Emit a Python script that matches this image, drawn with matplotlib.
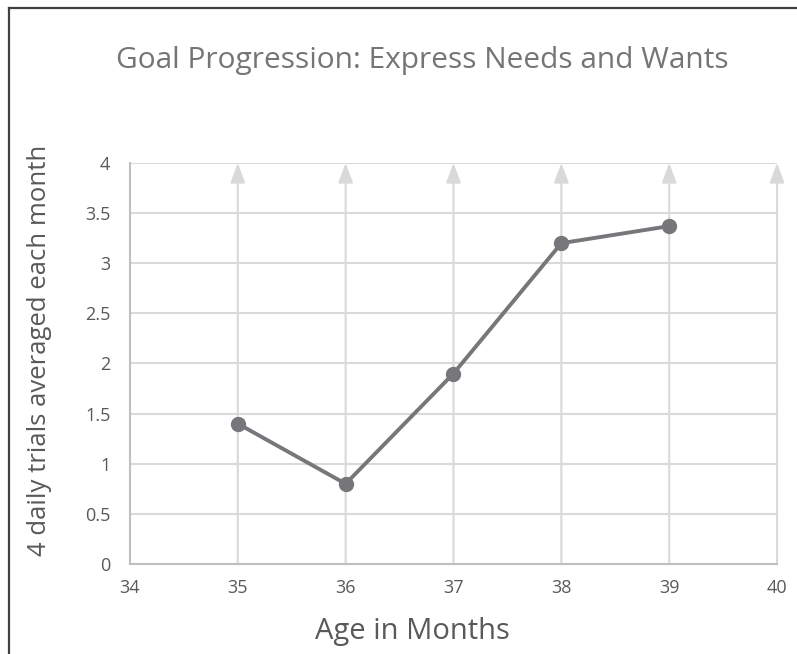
import matplotlib.pyplot as plt
from matplotlib.lines import Line2D

# data
ages = [35, 36, 37, 38, 39]
trials = [1.4, 0.8, 1.9, 3.2, 3.37]
x_ticks = [34, 35, 36, 37, 38, 39, 40]
y_ticks = [0, 0.5, 1, 1.5, 2, 2.5, 3, 3.5, 4]
y_labels = ["0", "0.5", "1", "1.5", "2", "2.5", "3", "3.5", "4"]

TEXT = "#595959"
GRID = "#d9d9d9"
LINE = "#77777b"

plt.rcParams['font.family'] = ['Open Sans', 'DejaVu Sans']

fig = plt.figure(figsize=(7.97, 6.54), dpi=100)
ax = fig.add_axes([0.163, 0.1376, 0.812, 0.6132])

ax.set_xlim(34, 40)
ax.set_ylim(0, 4)

# horizontal grid
for y in y_ticks[1:]:
    ax.axhline(y, color=GRID, lw=1.5, zorder=1)

# vertical grid lines ending in arrow heads
for x in x_ticks[1:]:
    ax.annotate("", xy=(x, 4.0), xytext=(x, 0),
                arrowprops=dict(arrowstyle="-|>,head_length=1.2,head_width=0.45",
                                color=GRID, lw=1.5, shrinkA=0, shrinkB=0),
                annotation_clip=False, zorder=1)

ax.plot(ages, trials, color=LINE, lw=2.8, marker="o", markersize=10, zorder=3,
        clip_on=False)

for s in ["top", "right"]:
    ax.spines[s].set_visible(False)
for s in ["left", "bottom"]:
    ax.spines[s].set_color("#bfbfbf")
    ax.spines[s].set_linewidth(1.5)

ax.set_xticks(x_ticks)
ax.set_yticks(y_ticks)
ax.set_yticklabels(y_labels)
ax.tick_params(length=0, labelsize=13, colors=TEXT)
ax.tick_params(axis="x", pad=11)
ax.tick_params(axis="y", pad=14)

# axis titles placed where the original has them
fig.text(0.517, 0.034, "Age in Months", ha="center", va="center",
         fontsize=21, color=TEXT)
fig.text(0.05, 0.465, "4 daily trials averaged each month", ha="center",
         va="center", rotation=90, fontsize=18.5, color=TEXT)

fig.text(0.53, 0.908, "Goal Progression: Express Needs and Wants", ha="center",
         va="center", fontsize=21.5, color="#757575")

# outer border (left and top edges visible)
fig.add_artist(Line2D([0.011, 0.011], [0.0, 0.988], color="#404040", lw=1.6))
fig.add_artist(Line2D([0.011, 1.0], [0.988, 0.988], color="#404040", lw=1.6))

fig.savefig("out.png", dpi=100)
